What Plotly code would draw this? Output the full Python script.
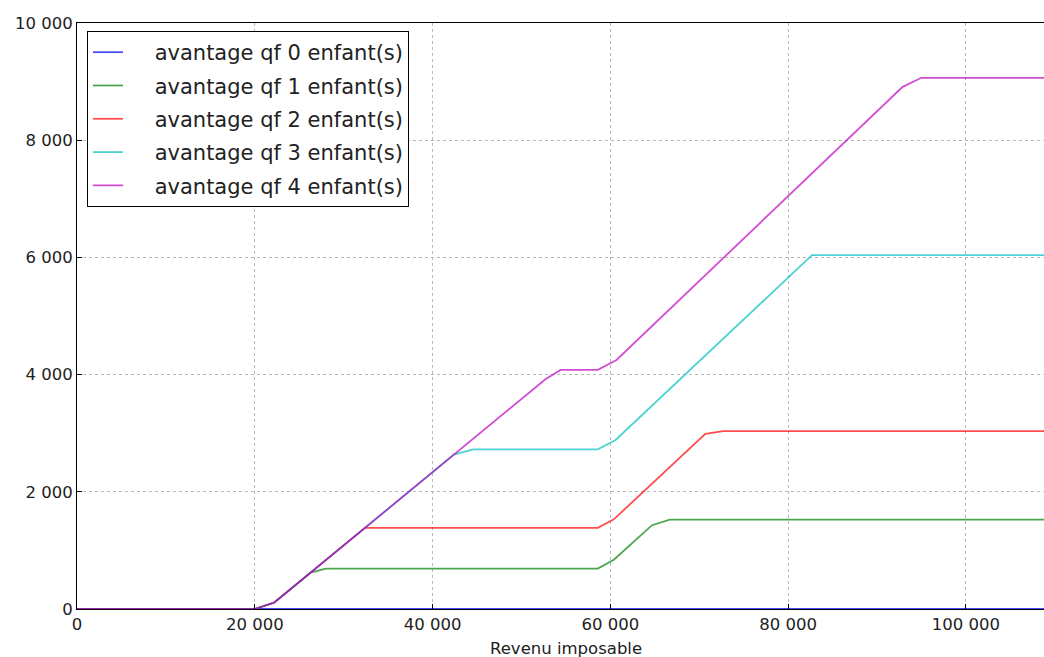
import plotly.graph_objects as go

# ---- data ----
revenu_qf0 = [0, 110000]
avantage_qf0 = [0, 0]

revenu_qf1 = [0, 20000, 22200, 26300, 28000, 58600, 60400, 64700, 66700, 110000]
avantage_qf1 = [0, 0, 110, 622, 690, 690, 840, 1430, 1525, 1525]

revenu_qf2 = [0, 20000, 22200, 32400, 58600, 60400, 70700, 72700, 110000]
avantage_qf2 = [0, 0, 110, 1384, 1384, 1530, 2990, 3035, 3035]

revenu_qf3 = [0, 20000, 22200, 42400, 44600, 58600, 60600, 82700, 110000]
avantage_qf3 = [0, 0, 110, 2635, 2725, 2725, 2885, 6040, 6040]

revenu_qf4 = [0, 20000, 22200, 52700, 54400, 58600, 60700, 92900, 95000, 110000]
avantage_qf4 = [0, 0, 110, 3920, 4080, 4080, 4250, 8910, 9065, 9065]

series_names = [
    "avantage qf 0 enfant(s)",
    "avantage qf 1 enfant(s)",
    "avantage qf 2 enfant(s)",
    "avantage qf 3 enfant(s)",
    "avantage qf 4 enfant(s)",
]
series_colors = [
    "rgba(0,0,255,0.7)",
    "rgba(0,128,0,0.7)",
    "rgba(255,0,0,0.7)",
    "rgba(0,191,191,0.7)",
    "rgba(191,0,191,0.7)",
]

x_tickvals = [0, 20000, 40000, 60000, 80000, 100000]
x_ticktext = ["0", "20 000", "40 000", "60 000", "80 000", "100 000"]
y_tickvals = [0, 2000, 4000, 6000, 8000, 10000]
y_ticktext = ["0", "2 000", "4 000", "6 000", "8 000", "10 000"]

xs = [revenu_qf0, revenu_qf1, revenu_qf2, revenu_qf3, revenu_qf4]
ys = [avantage_qf0, avantage_qf1, avantage_qf2, avantage_qf3, avantage_qf4]

FONT = "DejaVu Sans"
PAD = "\u00a0\u00a0\u00a0\u00a0"

fig = go.Figure()
for i in range(5):
    fig.add_trace(go.Scatter(
        x=xs[i], y=ys[i], mode="lines", name=PAD + series_names[i],
        line=dict(color=series_colors[i], width=1.8),
        legendgroup=str(i),
    ))

fig.update_layout(
    width=1044, height=657,
    margin=dict(l=77, r=0, t=23, b=48, autoexpand=False),
    paper_bgcolor="white", plot_bgcolor="white",
    font=dict(family=FONT, size=16.5, color="#222222"),
    showlegend=True,
    legend=dict(
        x=0.0103, y=0.9863, xanchor="left", yanchor="top",
        bgcolor="white", bordercolor="black", borderwidth=1,
        font=dict(family=FONT, size=21, color="#222222"),
        itemwidth=30, tracegroupgap=3,
    ),
    xaxis=dict(
        range=[0, 108800], tickvals=x_tickvals, ticktext=x_ticktext,
        showgrid=True, gridcolor="#b8b8b8", griddash="3px,3px", gridwidth=1,
        showline=True, linecolor="black", linewidth=1, mirror=True,
        ticks="inside", ticklen=5, tickcolor="black", zeroline=False,
        automargin=False, layer="above traces",
    ),
    yaxis=dict(
        range=[0, 10000], tickvals=y_tickvals, ticktext=y_ticktext,
        showgrid=True, gridcolor="#b8b8b8", griddash="3px,3px", gridwidth=1,
        showline=True, linecolor="black", linewidth=1, mirror=False,
        ticks="inside", ticklen=5, tickcolor="black", zeroline=False,
        automargin=False, layer="above traces",
    ),
    annotations=[dict(
        text="Revenu imposable", xref="paper", yref="paper",
        x=0.5057, y=-0.047, xanchor="center", yanchor="top", showarrow=False,
        font=dict(family=FONT, size=16.5, color="#222222"),
    )],
)

fig.write_html(
    "out.html",
    config={"displayModeBar": False},
    post_script="document.body.style.margin='0';document.body.style.overflow='hidden';",
)
